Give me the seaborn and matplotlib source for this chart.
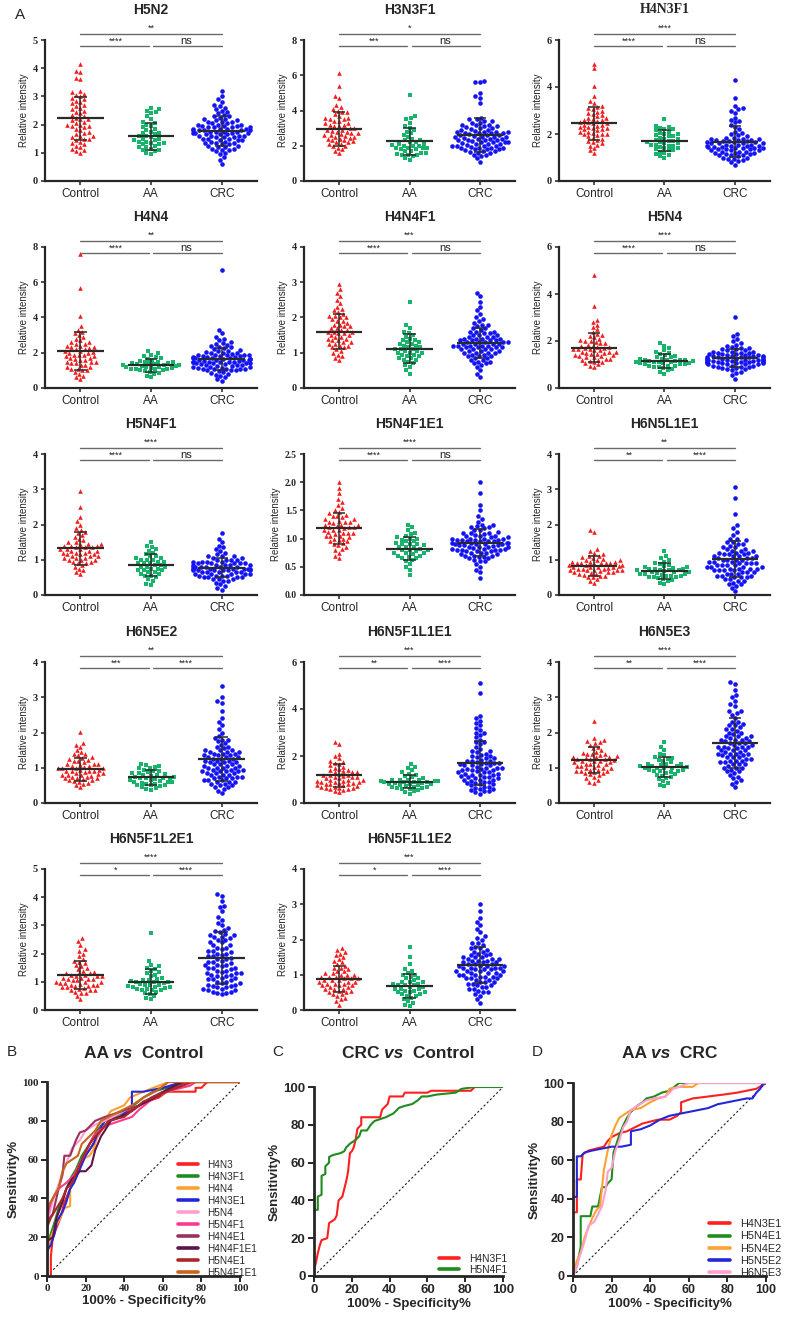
import numpy as np
import pandas as pd
import matplotlib.pyplot as plt
import seaborn as sns
import warnings

warnings.filterwarnings('ignore')

sns.set_style('ticks')
plt.rcParams['font.family'] = ['Liberation Sans', 'DejaVu Sans']
plt.rcParams['axes.linewidth'] = 1.6

## ============================================================= ##
## groups

groups = ['Control', 'AA', 'CRC']
group_colors = ['#f01e1e', '#18b46c', '#1414f2']
group_markers = ['^', 's', 'o']

## relative intensities

h5n2_control = [1.0, 1.05, 1.1, 1.15, 1.2, 1.25, 1.3, 1.35, 1.4, 1.45, 1.5, 1.5, 1.55, 1.6, 1.6, 1.65, 1.7, 1.75, 1.8, 1.85, 1.9, 1.95, 1.95, 2.0, 2.0, 2.05, 2.1, 2.15, 2.2, 2.2, 2.25, 2.3, 2.35, 2.4, 2.45, 2.5, 2.55, 2.6, 2.65, 2.7, 2.75, 2.8, 2.85, 2.9, 2.95, 3.0, 3.05, 3.1, 3.15, 3.2, 3.6, 3.65, 3.85, 3.9, 4.15]
h5n2_aa = [0.95, 1.0, 1.05, 1.1, 1.1, 1.15, 1.2, 1.2, 1.25, 1.3, 1.3, 1.35, 1.35, 1.4, 1.4, 1.45, 1.45, 1.5, 1.5, 1.55, 1.6, 1.6, 1.65, 1.7, 1.7, 1.75, 1.8, 1.85, 1.9, 1.95, 2.0, 2.05, 2.1, 2.2, 2.3, 2.4, 2.45, 2.5, 2.55, 2.6]
h5n2_crc = [0.6, 0.75, 0.85, 0.95, 1.0, 1.05, 1.1, 1.1, 1.15, 1.2, 1.2, 1.25, 1.3, 1.3, 1.35, 1.35, 1.4, 1.4, 1.45, 1.45, 1.5, 1.5, 1.5, 1.55, 1.55, 1.6, 1.6, 1.6, 1.65, 1.65, 1.7, 1.7, 1.7, 1.75, 1.75, 1.75, 1.8, 1.8, 1.8, 1.8, 1.85, 1.85, 1.85, 1.9, 1.9, 1.9, 1.95, 1.95, 2.0, 2.0, 2.0, 2.05, 2.05, 2.1, 2.1, 2.15, 2.15, 2.2, 2.2, 2.25, 2.3, 2.3, 2.35, 2.4, 2.45, 2.5, 2.55, 2.6, 2.65, 2.7, 2.8, 2.9, 3.0, 3.2, 1.25, 1.45, 1.65, 1.85, 1.55, 1.75, 1.95, 1.15, 1.35, 2.1, 1.7, 1.8, 1.6, 1.9]

h3n3f1_control = [1.6, 1.7, 1.8, 1.9, 2.0, 2.0, 2.1, 2.1, 2.2, 2.2, 2.25, 2.3, 2.3, 2.4, 2.4, 2.5, 2.5, 2.55, 2.6, 2.6, 2.7, 2.7, 2.8, 2.8, 2.9, 2.9, 3.0, 3.0, 3.1, 3.1, 3.2, 3.2, 3.3, 3.3, 3.4, 3.4, 3.5, 3.5, 3.6, 3.6, 3.7, 3.8, 3.9, 3.9, 4.0, 4.1, 4.2, 4.3, 4.7, 4.8, 5.4, 6.1, 2.45, 2.65, 2.85]
h3n3f1_aa = [1.2, 1.3, 1.4, 1.45, 1.5, 1.5, 1.55, 1.6, 1.6, 1.7, 1.7, 1.8, 1.8, 1.85, 1.9, 1.9, 1.9, 2.0, 2.0, 2.0, 2.05, 2.1, 2.1, 2.2, 2.2, 2.3, 2.3, 2.4, 2.5, 2.6, 2.7, 2.8, 2.9, 3.0, 3.1, 3.3, 3.5, 3.6, 3.7, 4.9]
h3n3f1_crc = [1.1, 1.3, 1.4, 1.5, 1.5, 1.6, 1.6, 1.65, 1.7, 1.7, 1.75, 1.8, 1.8, 1.8, 1.85, 1.9, 1.9, 1.9, 1.95, 2.0, 2.0, 2.0, 2.0, 2.05, 2.1, 2.1, 2.1, 2.15, 2.2, 2.2, 2.2, 2.2, 2.25, 2.3, 2.3, 2.3, 2.35, 2.4, 2.4, 2.4, 2.45, 2.5, 2.5, 2.5, 2.5, 2.55, 2.6, 2.6, 2.6, 2.65, 2.7, 2.7, 2.7, 2.75, 2.8, 2.8, 2.8, 2.8, 2.85, 2.9, 2.9, 2.95, 3.0, 3.0, 3.05, 3.1, 3.1, 3.15, 3.2, 3.2, 3.3, 3.3, 3.4, 3.4, 3.5, 3.5, 3.6, 4.4, 4.7, 4.8, 5.0, 5.6, 5.6, 5.7]

h4n3f1_control = [1.2, 1.3, 1.4, 1.5, 1.55, 1.6, 1.65, 1.7, 1.75, 1.8, 1.85, 1.9, 1.95, 2.0, 2.0, 2.0, 2.05, 2.1, 2.1, 2.15, 2.2, 2.2, 2.25, 2.25, 2.3, 2.3, 2.35, 2.4, 2.4, 2.45, 2.45, 2.5, 2.5, 2.55, 2.6, 2.6, 2.65, 2.7, 2.7, 2.75, 2.8, 2.85, 2.9, 2.95, 3.0, 3.05, 3.1, 3.15, 3.2, 3.3, 3.4, 3.6, 4.05, 4.8, 5.0]
h4n3f1_aa = [1.0, 1.05, 1.1, 1.15, 1.2, 1.25, 1.3, 1.3, 1.35, 1.4, 1.4, 1.45, 1.5, 1.5, 1.55, 1.55, 1.6, 1.6, 1.65, 1.65, 1.7, 1.7, 1.75, 1.8, 1.8, 1.85, 1.9, 1.9, 1.95, 2.0, 2.0, 2.05, 2.1, 2.15, 2.2, 2.2, 2.25, 2.3, 2.35, 2.65]
h4n3f1_crc = [0.7, 0.8, 0.85, 0.9, 0.95, 0.95, 1.0, 1.0, 1.05, 1.1, 1.1, 1.1, 1.15, 1.15, 1.2, 1.2, 1.2, 1.25, 1.25, 1.25, 1.3, 1.3, 1.3, 1.35, 1.35, 1.35, 1.4, 1.4, 1.4, 1.4, 1.45, 1.45, 1.45, 1.5, 1.5, 1.5, 1.5, 1.55, 1.55, 1.55, 1.6, 1.6, 1.6, 1.6, 1.65, 1.65, 1.65, 1.7, 1.7, 1.7, 1.75, 1.75, 1.75, 1.8, 1.8, 1.8, 1.85, 1.85, 1.9, 1.95, 2.0, 2.05, 2.1, 2.2, 2.3, 2.4, 2.5, 2.55, 2.6, 2.7, 2.9, 3.0, 3.05, 3.1, 3.2, 3.55, 4.3]

h4n4_control = [0.5, 0.6, 0.7, 0.8, 0.9, 1.0, 1.0, 1.1, 1.1, 1.2, 1.2, 1.3, 1.3, 1.4, 1.4, 1.45, 1.5, 1.5, 1.6, 1.6, 1.65, 1.7, 1.7, 1.8, 1.8, 1.85, 1.9, 1.9, 2.0, 2.0, 2.05, 2.1, 2.1, 2.2, 2.2, 2.25, 2.3, 2.3, 2.4, 2.4, 2.5, 2.5, 2.6, 2.6, 2.7, 2.8, 2.9, 3.0, 3.1, 3.2, 3.3, 3.5, 4.1, 5.7, 7.6]
h4n4_aa = [0.6, 0.7, 0.8, 0.85, 0.9, 0.95, 1.0, 1.0, 1.05, 1.1, 1.1, 1.1, 1.15, 1.15, 1.2, 1.2, 1.2, 1.25, 1.25, 1.3, 1.3, 1.3, 1.3, 1.35, 1.35, 1.4, 1.4, 1.4, 1.45, 1.5, 1.5, 1.55, 1.6, 1.65, 1.7, 1.75, 1.8, 1.9, 2.0, 2.1]
h4n4_crc = [0.4, 0.5, 0.6, 0.7, 0.75, 0.8, 0.85, 0.9, 0.95, 1.0, 1.0, 1.0, 1.05, 1.05, 1.1, 1.1, 1.1, 1.15, 1.15, 1.2, 1.2, 1.2, 1.25, 1.25, 1.3, 1.3, 1.3, 1.35, 1.35, 1.4, 1.4, 1.4, 1.4, 1.45, 1.45, 1.5, 1.5, 1.5, 1.5, 1.55, 1.55, 1.6, 1.6, 1.6, 1.6, 1.65, 1.65, 1.65, 1.7, 1.7, 1.7, 1.7, 1.75, 1.75, 1.75, 1.8, 1.8, 1.8, 1.85, 1.85, 1.9, 1.9, 1.9, 1.95, 2.0, 2.0, 2.0, 2.05, 2.1, 2.1, 2.15, 2.2, 2.25, 2.3, 2.35, 2.4, 2.45, 2.5, 2.55, 2.6, 2.7, 2.8, 2.9, 3.1, 3.3, 6.7]

h4n4f1_control = [0.8, 0.85, 0.9, 0.95, 1.0, 1.05, 1.1, 1.15, 1.15, 1.2, 1.2, 1.25, 1.25, 1.3, 1.3, 1.35, 1.35, 1.4, 1.4, 1.45, 1.45, 1.5, 1.5, 1.55, 1.55, 1.6, 1.6, 1.6, 1.65, 1.65, 1.7, 1.7, 1.75, 1.75, 1.8, 1.8, 1.85, 1.9, 1.9, 1.95, 2.0, 2.0, 2.05, 2.05, 2.1, 2.15, 2.2, 2.25, 2.3, 2.4, 2.5, 2.6, 2.7, 2.8, 2.95]
h4n4f1_aa = [0.4, 0.5, 0.6, 0.65, 0.7, 0.75, 0.8, 0.8, 0.85, 0.85, 0.9, 0.9, 0.95, 0.95, 1.0, 1.0, 1.0, 1.05, 1.05, 1.1, 1.1, 1.1, 1.15, 1.15, 1.2, 1.2, 1.25, 1.25, 1.3, 1.3, 1.35, 1.35, 1.4, 1.45, 1.5, 1.55, 1.6, 1.7, 1.8, 2.45]
h4n4f1_crc = [0.3, 0.4, 0.5, 0.6, 0.65, 0.7, 0.7, 0.75, 0.75, 0.8, 0.8, 0.85, 0.85, 0.9, 0.9, 0.9, 0.95, 0.95, 1.0, 1.0, 1.0, 1.0, 1.05, 1.05, 1.05, 1.1, 1.1, 1.1, 1.1, 1.15, 1.15, 1.15, 1.15, 1.2, 1.2, 1.2, 1.2, 1.2, 1.25, 1.25, 1.25, 1.25, 1.3, 1.3, 1.3, 1.3, 1.3, 1.35, 1.35, 1.35, 1.35, 1.4, 1.4, 1.4, 1.4, 1.45, 1.45, 1.45, 1.5, 1.5, 1.5, 1.55, 1.55, 1.6, 1.6, 1.6, 1.65, 1.7, 1.7, 1.75, 1.8, 1.8, 1.85, 1.9, 1.95, 2.0, 2.1, 2.2, 2.3, 2.45, 2.6, 2.7]

h5n4_control = [0.9, 0.95, 1.0, 1.05, 1.1, 1.1, 1.15, 1.2, 1.2, 1.25, 1.25, 1.3, 1.3, 1.35, 1.35, 1.4, 1.4, 1.45, 1.45, 1.5, 1.5, 1.55, 1.55, 1.55, 1.6, 1.6, 1.65, 1.65, 1.65, 1.7, 1.7, 1.75, 1.75, 1.8, 1.8, 1.85, 1.9, 1.9, 1.95, 2.0, 2.0, 2.05, 2.1, 2.15, 2.2, 2.25, 2.3, 2.4, 2.5, 2.6, 2.7, 2.8, 2.9, 3.5, 4.8]
h5n4_aa = [0.6, 0.7, 0.75, 0.8, 0.85, 0.9, 0.9, 0.95, 0.95, 0.95, 1.0, 1.0, 1.0, 1.05, 1.05, 1.05, 1.1, 1.1, 1.1, 1.1, 1.15, 1.15, 1.15, 1.2, 1.2, 1.2, 1.2, 1.25, 1.25, 1.3, 1.3, 1.35, 1.4, 1.45, 1.5, 1.55, 1.6, 1.7, 1.8, 1.9]
h5n4_crc = [0.4, 0.55, 0.65, 0.7, 0.75, 0.8, 0.8, 0.85, 0.85, 0.9, 0.9, 0.9, 0.95, 0.95, 0.95, 1.0, 1.0, 1.0, 1.0, 1.05, 1.05, 1.05, 1.05, 1.1, 1.1, 1.1, 1.1, 1.1, 1.15, 1.15, 1.15, 1.15, 1.15, 1.2, 1.2, 1.2, 1.2, 1.2, 1.25, 1.25, 1.25, 1.25, 1.25, 1.3, 1.3, 1.3, 1.3, 1.3, 1.35, 1.35, 1.35, 1.35, 1.4, 1.4, 1.4, 1.45, 1.45, 1.45, 1.5, 1.5, 1.5, 1.55, 1.55, 1.55, 1.6, 1.6, 1.65, 1.65, 1.7, 1.7, 1.75, 1.8, 1.85, 1.9, 2.0, 2.1, 2.2, 2.3, 3.0]

h5n4f1_control = [0.6, 0.65, 0.7, 0.75, 0.8, 0.85, 0.9, 0.9, 0.95, 0.95, 1.0, 1.0, 1.0, 1.05, 1.05, 1.05, 1.1, 1.1, 1.1, 1.15, 1.15, 1.15, 1.2, 1.2, 1.2, 1.25, 1.25, 1.25, 1.3, 1.3, 1.3, 1.35, 1.35, 1.35, 1.4, 1.4, 1.4, 1.45, 1.45, 1.45, 1.5, 1.5, 1.55, 1.6, 1.65, 1.7, 1.75, 1.8, 1.85, 1.9, 2.0, 2.1, 2.2, 2.5, 2.95]
h5n4f1_aa = [0.28, 0.3, 0.4, 0.45, 0.5, 0.55, 0.55, 0.6, 0.6, 0.65, 0.65, 0.7, 0.7, 0.7, 0.75, 0.75, 0.8, 0.8, 0.8, 0.85, 0.85, 0.9, 0.9, 0.9, 0.95, 0.95, 1.0, 1.0, 1.0, 1.05, 1.05, 1.1, 1.1, 1.15, 1.2, 1.25, 1.3, 1.35, 1.4, 1.5]
h5n4f1_crc = [0.15, 0.2, 0.25, 0.3, 0.35, 0.4, 0.4, 0.45, 0.45, 0.45, 0.5, 0.5, 0.5, 0.5, 0.55, 0.55, 0.55, 0.55, 0.6, 0.6, 0.6, 0.6, 0.6, 0.65, 0.65, 0.65, 0.65, 0.65, 0.7, 0.7, 0.7, 0.7, 0.7, 0.7, 0.75, 0.75, 0.75, 0.75, 0.75, 0.75, 0.8, 0.8, 0.8, 0.8, 0.8, 0.8, 0.85, 0.85, 0.85, 0.85, 0.85, 0.9, 0.9, 0.9, 0.9, 0.9, 0.95, 0.95, 0.95, 0.95, 1.0, 1.0, 1.0, 1.0, 1.05, 1.05, 1.1, 1.1, 1.1, 1.15, 1.2, 1.25, 1.3, 1.35, 1.4, 1.5, 1.6, 1.75]

h5n4f1e1_control = [0.65, 0.7, 0.75, 0.8, 0.82, 0.85, 0.88, 0.9, 0.92, 0.95, 0.95, 0.97, 1.0, 1.0, 1.02, 1.05, 1.05, 1.05, 1.08, 1.1, 1.1, 1.1, 1.12, 1.15, 1.15, 1.15, 1.18, 1.2, 1.2, 1.2, 1.22, 1.25, 1.25, 1.25, 1.28, 1.3, 1.3, 1.3, 1.32, 1.35, 1.35, 1.38, 1.4, 1.4, 1.42, 1.45, 1.48, 1.5, 1.55, 1.6, 1.65, 1.7, 1.8, 1.9, 2.0]
h5n4f1e1_aa = [0.35, 0.45, 0.5, 0.55, 0.6, 0.62, 0.65, 0.65, 0.68, 0.7, 0.7, 0.72, 0.75, 0.75, 0.75, 0.78, 0.8, 0.8, 0.8, 0.82, 0.85, 0.85, 0.85, 0.88, 0.9, 0.9, 0.9, 0.92, 0.95, 0.95, 0.98, 1.0, 1.0, 1.02, 1.05, 1.08, 1.1, 1.15, 1.2, 1.25]
h5n4f1e1_crc = [0.3, 0.4, 0.45, 0.5, 0.55, 0.6, 0.6, 0.62, 0.65, 0.65, 0.68, 0.68, 0.7, 0.7, 0.7, 0.72, 0.72, 0.75, 0.75, 0.75, 0.78, 0.78, 0.78, 0.8, 0.8, 0.8, 0.8, 0.82, 0.82, 0.82, 0.83, 0.85, 0.85, 0.85, 0.85, 0.87, 0.88, 0.88, 0.88, 0.9, 0.9, 0.9, 0.9, 0.92, 0.92, 0.92, 0.92, 0.95, 0.95, 0.95, 0.95, 0.97, 0.98, 0.98, 0.98, 1.0, 1.0, 1.0, 1.0, 1.02, 1.02, 1.05, 1.05, 1.05, 1.07, 1.08, 1.1, 1.1, 1.1, 1.12, 1.15, 1.15, 1.18, 1.2, 1.2, 1.22, 1.25, 1.25, 1.3, 1.35, 1.4, 1.5, 1.6, 1.8, 2.0]

h6n5l1e1_control = [0.35, 0.4, 0.45, 0.5, 0.52, 0.55, 0.55, 0.58, 0.6, 0.6, 0.62, 0.65, 0.65, 0.65, 0.68, 0.7, 0.7, 0.7, 0.7, 0.72, 0.75, 0.75, 0.75, 0.78, 0.8, 0.8, 0.8, 0.8, 0.82, 0.85, 0.85, 0.85, 0.88, 0.9, 0.9, 0.9, 0.9, 0.92, 0.95, 0.95, 0.95, 0.98, 1.0, 1.0, 1.02, 1.05, 1.08, 1.1, 1.12, 1.15, 1.2, 1.25, 1.3, 1.8, 1.85]
h6n5l1e1_aa = [0.3, 0.35, 0.4, 0.42, 0.45, 0.48, 0.5, 0.5, 0.52, 0.55, 0.55, 0.55, 0.58, 0.6, 0.6, 0.6, 0.62, 0.65, 0.65, 0.65, 0.68, 0.7, 0.7, 0.7, 0.72, 0.75, 0.75, 0.75, 0.78, 0.8, 0.8, 0.82, 0.85, 0.88, 0.9, 0.95, 1.0, 1.05, 1.1, 1.25]
h6n5l1e1_crc = [0.1, 0.2, 0.25, 0.3, 0.3, 0.35, 0.4, 0.4, 0.45, 0.45, 0.5, 0.5, 0.5, 0.55, 0.55, 0.55, 0.6, 0.6, 0.6, 0.65, 0.65, 0.65, 0.7, 0.7, 0.7, 0.7, 0.75, 0.75, 0.75, 0.75, 0.8, 0.8, 0.8, 0.8, 0.85, 0.85, 0.85, 0.85, 0.9, 0.9, 0.9, 0.9, 0.95, 0.95, 0.95, 1.0, 1.0, 1.0, 1.0, 1.05, 1.05, 1.05, 1.1, 1.1, 1.1, 1.1, 1.15, 1.15, 1.15, 1.2, 1.2, 1.2, 1.25, 1.25, 1.25, 1.3, 1.3, 1.35, 1.35, 1.4, 1.45, 1.45, 1.5, 1.5, 1.55, 1.6, 1.6, 1.7, 1.8, 1.9, 2.0, 2.3, 2.75, 3.05]

h6n5e2_control = [0.45, 0.5, 0.55, 0.58, 0.6, 0.62, 0.65, 0.65, 0.68, 0.7, 0.7, 0.72, 0.75, 0.75, 0.78, 0.8, 0.8, 0.8, 0.82, 0.85, 0.85, 0.88, 0.9, 0.9, 0.9, 0.92, 0.95, 0.95, 0.98, 1.0, 1.0, 1.0, 1.02, 1.05, 1.05, 1.08, 1.1, 1.1, 1.1, 1.15, 1.2, 1.2, 1.22, 1.25, 1.28, 1.3, 1.35, 1.38, 1.4, 1.45, 1.5, 1.6, 1.65, 1.7, 2.02]
h6n5e2_aa = [0.38, 0.4, 0.42, 0.45, 0.48, 0.5, 0.5, 0.52, 0.55, 0.55, 0.58, 0.6, 0.6, 0.6, 0.62, 0.65, 0.65, 0.68, 0.7, 0.7, 0.7, 0.72, 0.75, 0.75, 0.78, 0.8, 0.8, 0.82, 0.85, 0.85, 0.88, 0.9, 0.92, 0.95, 0.98, 1.0, 1.02, 1.05, 1.08, 1.1]
h6n5e2_crc = [0.28, 0.35, 0.4, 0.45, 0.45, 0.5, 0.5, 0.55, 0.55, 0.6, 0.6, 0.6, 0.65, 0.65, 0.65, 0.7, 0.7, 0.7, 0.75, 0.75, 0.75, 0.8, 0.8, 0.8, 0.85, 0.85, 0.85, 0.9, 0.9, 0.9, 0.9, 0.95, 0.95, 0.95, 1.0, 1.0, 1.0, 1.0, 1.05, 1.05, 1.05, 1.1, 1.1, 1.1, 1.15, 1.15, 1.15, 1.2, 1.2, 1.2, 1.25, 1.25, 1.25, 1.3, 1.3, 1.3, 1.35, 1.35, 1.35, 1.4, 1.4, 1.4, 1.45, 1.45, 1.45, 1.5, 1.5, 1.5, 1.55, 1.6, 1.6, 1.65, 1.7, 1.75, 1.8, 1.8, 1.85, 1.9, 2.0, 2.1, 2.2, 2.3, 2.4, 2.6, 2.85, 2.9, 3.0, 3.32]

h6n5f1l1e1_control = [0.45, 0.5, 0.55, 0.6, 0.6, 0.62, 0.65, 0.65, 0.7, 0.7, 0.72, 0.75, 0.75, 0.8, 0.8, 0.82, 0.85, 0.85, 0.9, 0.9, 0.9, 0.95, 0.95, 1.0, 1.0, 1.0, 1.05, 1.05, 1.1, 1.1, 1.1, 1.15, 1.2, 1.2, 1.2, 1.25, 1.3, 1.3, 1.3, 1.35, 1.4, 1.4, 1.45, 1.5, 1.55, 1.6, 1.65, 1.7, 1.75, 1.8, 1.9, 2.0, 2.1, 2.5, 2.6]
h6n5f1l1e1_aa = [0.4, 0.45, 0.5, 0.55, 0.6, 0.6, 0.62, 0.65, 0.68, 0.7, 0.7, 0.72, 0.75, 0.78, 0.8, 0.8, 0.82, 0.85, 0.85, 0.88, 0.9, 0.9, 0.9, 0.92, 0.95, 0.95, 0.98, 1.0, 1.0, 1.0, 1.05, 1.1, 1.15, 1.2, 1.25, 1.3, 1.4, 1.5, 1.55, 1.65]
h6n5f1l1e1_crc = [0.4, 0.45, 0.5, 0.5, 0.55, 0.6, 0.6, 0.65, 0.7, 0.7, 0.75, 0.8, 0.8, 0.85, 0.85, 0.9, 0.9, 0.95, 1.0, 1.0, 1.0, 1.05, 1.05, 1.1, 1.1, 1.1, 1.15, 1.2, 1.2, 1.2, 1.25, 1.25, 1.3, 1.3, 1.3, 1.35, 1.4, 1.4, 1.4, 1.45, 1.45, 1.5, 1.5, 1.5, 1.55, 1.6, 1.6, 1.6, 1.65, 1.65, 1.7, 1.7, 1.7, 1.75, 1.8, 1.8, 1.8, 1.85, 1.9, 1.9, 1.95, 2.0, 2.0, 2.05, 2.1, 2.15, 2.2, 2.2, 2.3, 2.4, 2.5, 2.6, 2.6, 2.7, 2.8, 2.9, 3.0, 3.0, 3.1, 3.2, 3.3, 3.4, 3.5, 3.6, 3.7, 4.7, 5.1]

h6n5e3_control = [0.58, 0.6, 0.65, 0.7, 0.75, 0.8, 0.82, 0.85, 0.85, 0.88, 0.9, 0.9, 0.92, 0.95, 0.95, 0.98, 1.0, 1.0, 1.02, 1.05, 1.05, 1.08, 1.1, 1.1, 1.12, 1.15, 1.15, 1.18, 1.2, 1.2, 1.22, 1.25, 1.25, 1.25, 1.28, 1.3, 1.3, 1.3, 1.32, 1.35, 1.38, 1.4, 1.4, 1.42, 1.45, 1.5, 1.55, 1.6, 1.65, 1.7, 1.72, 1.75, 1.78, 1.85, 2.32]
h6n5e3_aa = [0.48, 0.52, 0.58, 0.62, 0.68, 0.72, 0.75, 0.78, 0.8, 0.82, 0.85, 0.88, 0.9, 0.9, 0.92, 0.95, 0.95, 0.98, 1.0, 1.0, 1.0, 1.02, 1.05, 1.05, 1.05, 1.08, 1.1, 1.1, 1.12, 1.15, 1.2, 1.22, 1.25, 1.28, 1.3, 1.35, 1.4, 1.5, 1.6, 1.72]
h6n5e3_crc = [0.45, 0.55, 0.6, 0.65, 0.7, 0.75, 0.8, 0.85, 0.9, 0.9, 0.95, 1.0, 1.0, 1.0, 1.05, 1.1, 1.1, 1.1, 1.15, 1.15, 1.2, 1.2, 1.2, 1.25, 1.25, 1.3, 1.3, 1.3, 1.35, 1.35, 1.4, 1.4, 1.4, 1.4, 1.45, 1.45, 1.5, 1.5, 1.5, 1.55, 1.55, 1.6, 1.6, 1.6, 1.6, 1.65, 1.65, 1.7, 1.7, 1.7, 1.75, 1.75, 1.8, 1.8, 1.8, 1.85, 1.85, 1.9, 1.9, 1.9, 1.95, 2.0, 2.0, 2.05, 2.1, 2.1, 2.15, 2.2, 2.2, 2.25, 2.3, 2.3, 2.4, 2.5, 2.55, 2.6, 2.6, 2.75, 2.8, 2.9, 3.0, 3.05, 3.2, 3.38, 3.42]

h6n5f1l2e1_control = [0.38, 0.5, 0.6, 0.62, 0.65, 0.7, 0.7, 0.72, 0.75, 0.78, 0.8, 0.8, 0.85, 0.85, 0.88, 0.9, 0.9, 0.92, 0.95, 0.95, 1.0, 1.0, 1.0, 1.05, 1.05, 1.1, 1.1, 1.1, 1.15, 1.15, 1.2, 1.2, 1.2, 1.25, 1.25, 1.3, 1.3, 1.3, 1.35, 1.4, 1.45, 1.5, 1.55, 1.6, 1.65, 1.7, 1.75, 1.8, 1.9, 2.0, 2.1, 2.15, 2.3, 2.45, 2.55]
h6n5f1l2e1_aa = [0.38, 0.42, 0.5, 0.55, 0.6, 0.65, 0.7, 0.7, 0.72, 0.75, 0.75, 0.78, 0.8, 0.8, 0.82, 0.85, 0.88, 0.9, 0.9, 0.92, 0.95, 1.0, 1.0, 1.0, 1.02, 1.05, 1.05, 1.1, 1.15, 1.2, 1.25, 1.3, 1.35, 1.4, 1.45, 1.5, 1.55, 1.6, 1.75, 2.72]
h6n5f1l2e1_crc = [0.55, 0.6, 0.6, 0.65, 0.65, 0.7, 0.7, 0.75, 0.75, 0.8, 0.8, 0.85, 0.85, 0.9, 0.9, 0.95, 0.95, 1.0, 1.0, 1.05, 1.1, 1.1, 1.15, 1.15, 1.2, 1.2, 1.25, 1.25, 1.3, 1.3, 1.3, 1.35, 1.4, 1.4, 1.45, 1.5, 1.5, 1.5, 1.55, 1.6, 1.6, 1.6, 1.65, 1.7, 1.7, 1.75, 1.8, 1.8, 1.85, 1.9, 1.9, 1.95, 2.0, 2.0, 2.05, 2.1, 2.1, 2.15, 2.2, 2.2, 2.3, 2.3, 2.4, 2.4, 2.5, 2.5, 2.55, 2.6, 2.6, 2.65, 2.65, 2.7, 2.75, 2.8, 2.85, 2.9, 3.0, 3.1, 3.2, 3.3, 3.5, 3.65, 3.7, 3.85, 4.05, 4.12]

h6n5f1l1e2_control = [0.15, 0.25, 0.3, 0.35, 0.4, 0.45, 0.45, 0.5, 0.5, 0.55, 0.55, 0.6, 0.6, 0.6, 0.65, 0.65, 0.7, 0.7, 0.7, 0.75, 0.75, 0.75, 0.8, 0.8, 0.8, 0.85, 0.85, 0.85, 0.9, 0.9, 0.9, 0.95, 0.95, 0.95, 1.0, 1.0, 1.0, 1.05, 1.05, 1.1, 1.1, 1.15, 1.2, 1.2, 1.25, 1.3, 1.35, 1.4, 1.45, 1.5, 1.55, 1.6, 1.65, 1.7, 1.75]
h6n5f1l1e2_aa = [0.1, 0.15, 0.2, 0.25, 0.3, 0.35, 0.4, 0.4, 0.45, 0.45, 0.5, 0.5, 0.5, 0.55, 0.55, 0.6, 0.6, 0.6, 0.65, 0.65, 0.7, 0.7, 0.7, 0.75, 0.75, 0.8, 0.8, 0.8, 0.85, 0.9, 0.9, 0.95, 1.0, 1.0, 1.05, 1.1, 1.15, 1.3, 1.5, 1.8]
h6n5f1l1e2_crc = [0.2, 0.3, 0.4, 0.45, 0.5, 0.5, 0.55, 0.6, 0.6, 0.65, 0.65, 0.7, 0.7, 0.75, 0.75, 0.8, 0.8, 0.8, 0.85, 0.85, 0.9, 0.9, 0.9, 0.95, 0.95, 0.95, 1.0, 1.0, 1.0, 1.0, 1.05, 1.05, 1.05, 1.1, 1.1, 1.1, 1.1, 1.15, 1.15, 1.15, 1.2, 1.2, 1.2, 1.2, 1.25, 1.25, 1.25, 1.25, 1.3, 1.3, 1.3, 1.35, 1.35, 1.35, 1.4, 1.4, 1.4, 1.45, 1.45, 1.45, 1.5, 1.5, 1.5, 1.55, 1.55, 1.6, 1.6, 1.65, 1.65, 1.7, 1.75, 1.75, 1.8, 1.85, 1.9, 1.9, 2.0, 2.05, 2.1, 2.2, 2.3, 2.4, 2.5, 2.6, 2.8, 3.02]

## panel settings

glycans = ['H5N2', 'H3N3F1', 'H4N3F1', 'H4N4', 'H4N4F1', 'H5N4', 'H5N4F1', 'H5N4F1E1',
           'H6N5L1E1', 'H6N5E2', 'H6N5F1L1E1', 'H6N5E3', 'H6N5F1L2E1', 'H6N5F1L1E2']
y_max = [5, 8, 6, 8, 4, 6, 4, 2.5, 4, 4, 6, 4, 5, 4]
y_step = [1, 2, 2, 2, 1, 2, 1, 0.5, 1, 1, 2, 1, 1, 1]

mean_control = [2.22, 2.95, 2.45, 2.1, 1.6, 1.72, 1.32, 1.18, 0.82, 0.96, 1.18, 1.22, 1.24, 0.88]
sd_control = [0.76, 0.95, 0.72, 1.1, 0.5, 0.62, 0.47, 0.28, 0.28, 0.33, 0.5, 0.36, 0.5, 0.37]
mean_aa = [1.58, 2.25, 1.72, 1.3, 1.12, 1.15, 0.85, 0.82, 0.68, 0.73, 0.9, 1.02, 1.01, 0.68]
sd_aa = [0.48, 0.75, 0.43, 0.37, 0.4, 0.3, 0.3, 0.2, 0.22, 0.21, 0.28, 0.28, 0.43, 0.33]
mean_crc = [1.78, 2.6, 1.68, 1.65, 1.28, 1.28, 0.78, 0.93, 1.02, 1.25, 1.7, 1.7, 1.85, 1.28]
sd_crc = [0.53, 0.95, 0.67, 0.62, 0.43, 0.4, 0.28, 0.24, 0.5, 0.62, 0.95, 0.7, 0.93, 0.52]

sig_control_crc = ['**', '*', '****', '**', '***', '****', '****', '****', '**', '**', '***', '****', '****', '***']
sig_control_aa = ['****', '***', '****', '****', '****', '****', '****', '****', '**', '***', '**', '**', '*', '*']
sig_aa_crc = ['ns', 'ns', 'ns', 'ns', 'ns', 'ns', 'ns', 'ns', '****', '****', '****', '****', '****', '****']

roc_b_h4n3 = [(0, 0), (2, 0), (2, 10), (3, 20), (5, 25), (7, 30), (9, 38), (12, 45), (15, 52), (18, 60), (22, 65), (25, 70), (28, 75), (32, 80), (38, 82), (42, 85), (48, 88), (52, 90), (58, 92), (62, 95), (77, 95), (77, 97), (80, 97), (83, 100), (100, 100)]
roc_b_h4n3f1 = [(0, 0), (0, 15), (2, 22), (4, 28), (6, 35), (9, 42), (12, 50), (15, 55), (18, 62), (22, 68), (26, 75), (30, 80), (36, 82), (40, 85), (45, 88), (50, 92), (55, 95), (62, 97), (72, 100), (100, 100)]
roc_b_h4n4 = [(0, 0), (0, 10), (2, 20), (4, 25), (7, 30), (9, 35), (12, 36), (12, 45), (15, 52), (18, 60), (22, 62), (24, 65), (27, 75), (30, 80), (33, 85), (40, 88), (43, 92), (50, 95), (55, 97), (63, 100), (100, 100)]
roc_b_h4n3e1 = [(0, 0), (0, 13), (2, 16), (4, 22), (5, 28), (8, 33), (10, 38), (12, 45), (14, 48), (17, 55), (20, 62), (24, 68), (27, 75), (30, 80), (38, 82), (44, 88), (44, 95), (50, 95), (60, 97), (70, 100), (100, 100)]
roc_b_h5n4 = [(0, 0), (0, 25), (2, 35), (4, 42), (7, 50), (10, 58), (13, 66), (17, 70), (20, 75), (25, 78), (30, 80), (36, 83), (42, 86), (48, 88), (55, 92), (62, 95), (70, 97), (77, 100), (100, 100)]
roc_b_h5n4f1 = [(0, 0), (0, 30), (2, 38), (4, 42), (6, 45), (10, 48), (14, 52), (17, 58), (21, 66), (24, 72), (27, 75), (32, 78), (38, 80), (44, 82), (48, 86), (53, 90), (58, 93), (65, 96), (74, 98), (77, 100), (100, 100)]
roc_b_h4n4e1 = [(0, 0), (0, 28), (3, 32), (6, 45), (8, 52), (9, 62), (12, 62), (15, 70), (17, 74), (20, 75), (22, 77), (25, 80), (30, 82), (36, 84), (42, 86), (48, 88), (54, 92), (60, 95), (68, 98), (72, 100), (100, 100)]
roc_b_h4n4f1e1 = [(0, 0), (0, 18), (3, 20), (5, 30), (8, 38), (10, 45), (13, 50), (17, 54), (20, 54), (23, 57), (25, 65), (28, 72), (30, 75), (33, 80), (38, 82), (44, 85), (48, 88), (52, 90), (58, 93), (62, 96), (70, 100), (100, 100)]
roc_b_h5n4e1 = [(0, 0), (0, 25), (2, 30), (5, 35), (8, 40), (10, 45), (13, 48), (16, 55), (19, 62), (22, 68), (25, 72), (28, 75), (32, 80), (40, 82), (45, 86), (50, 90), (55, 92), (62, 95), (70, 98), (75, 100), (100, 100)]
roc_b_h5n4f1e1 = [(0, 0), (0, 35), (3, 40), (6, 45), (8, 54), (10, 58), (13, 60), (16, 62), (18, 68), (22, 72), (25, 75), (28, 80), (32, 82), (38, 85), (44, 88), (50, 92), (56, 95), (63, 100), (100, 100)]

roc_c_h4n3f1 = [(0, 0), (0, 3), (1, 7), (2, 12), (3, 16), (4, 19), (7, 20), (8, 28), (11, 30), (12, 32), (13, 40), (15, 42), (16, 46), (17, 50), (18, 55), (19, 65), (20, 66), (21, 68), (22, 72), (23, 78), (25, 80), (25, 84), (35, 84), (36, 88), (38, 90), (39, 91), (40, 95), (47, 95), (48, 97), (60, 97), (62, 98), (83, 98), (85, 100), (100, 100)]
roc_c_h5n4f1 = [(0, 0), (0, 35), (2, 35), (2, 42), (4, 43), (4, 53), (6, 54), (6, 58), (8, 60), (8, 63), (10, 64), (14, 65), (16, 66), (17, 68), (19, 70), (22, 72), (24, 74), (25, 77), (28, 77), (30, 80), (32, 82), (35, 83), (38, 84), (40, 85), (42, 86), (45, 89), (48, 90), (52, 91), (55, 93), (57, 95), (60, 95), (65, 96), (75, 97), (78, 99), (85, 100), (100, 100)]

roc_d_h4n3e1 = [(0, 0), (0, 33), (2, 33), (2, 50), (4, 50), (5, 63), (8, 65), (12, 66), (16, 67), (18, 70), (20, 72), (24, 74), (28, 75), (32, 77), (36, 79), (40, 80), (44, 81), (50, 81), (54, 83), (56, 85), (56, 90), (62, 92), (70, 93), (78, 94), (85, 95), (90, 96), (95, 97), (100, 100)]
roc_d_h5n4e1 = [(0, 0), (2, 5), (4, 15), (4, 31), (9, 31), (10, 36), (13, 36), (15, 46), (17, 46), (18, 48), (20, 50), (21, 64), (22, 67), (24, 73), (26, 78), (28, 82), (30, 85), (33, 88), (36, 90), (38, 92), (42, 93), (46, 95), (50, 96), (55, 100), (100, 100)]
roc_d_h5n4e2 = [(0, 0), (2, 8), (4, 12), (6, 20), (8, 25), (10, 30), (12, 34), (14, 36), (16, 55), (17, 60), (18, 65), (20, 73), (22, 78), (24, 82), (27, 84), (30, 86), (35, 87), (40, 90), (44, 92), (48, 93), (50, 97), (55, 98), (62, 98), (65, 100), (100, 100)]
roc_d_h5n5e2 = [(0, 0), (0, 41), (2, 41), (2, 62), (4, 62), (6, 64), (10, 65), (15, 66), (20, 67), (25, 67), (30, 68), (30, 75), (35, 76), (40, 78), (45, 81), (50, 83), (55, 84), (60, 85), (65, 86), (70, 87), (75, 89), (80, 90), (85, 91), (90, 92), (93, 92), (95, 95), (97, 97), (98, 99), (100, 100)]
roc_d_h6n5e3 = [(0, 0), (2, 5), (4, 12), (6, 18), (8, 26), (11, 28), (13, 32), (15, 36), (17, 45), (18, 54), (20, 56), (22, 65), (24, 70), (26, 77), (28, 80), (30, 86), (33, 88), (38, 91), (42, 92), (48, 93), (52, 97), (55, 98), (60, 100), (100, 100)]

## ============================================================= ##

panel_values = [
    (h5n2_control, h5n2_aa, h5n2_crc),
    (h3n3f1_control, h3n3f1_aa, h3n3f1_crc),
    (h4n3f1_control, h4n3f1_aa, h4n3f1_crc),
    (h4n4_control, h4n4_aa, h4n4_crc),
    (h4n4f1_control, h4n4f1_aa, h4n4f1_crc),
    (h5n4_control, h5n4_aa, h5n4_crc),
    (h5n4f1_control, h5n4f1_aa, h5n4f1_crc),
    (h5n4f1e1_control, h5n4f1e1_aa, h5n4f1e1_crc),
    (h6n5l1e1_control, h6n5l1e1_aa, h6n5l1e1_crc),
    (h6n5e2_control, h6n5e2_aa, h6n5e2_crc),
    (h6n5f1l1e1_control, h6n5f1l1e1_aa, h6n5f1l1e1_crc),
    (h6n5e3_control, h6n5e3_aa, h6n5e3_crc),
    (h6n5f1l2e1_control, h6n5f1l2e1_aa, h6n5f1l2e1_crc),
    (h6n5f1l1e2_control, h6n5f1l1e2_aa, h6n5f1l1e2_crc),
]

W, H = 800, 1319
fig = plt.figure(figsize=(W / 100, H / 100), dpi=100)


def px_axes(x0, y0, x1, y1):
    # axes from pixel box (top-left origin)
    return fig.add_axes([x0 / W, 1 - y1 / H, (x1 - x0) / W, (y1 - y0) / H])


col_x = [(45, 257), (304, 515), (559, 770)]
row_top = [40, 247, 454, 662, 869]
ax_h = 141

serif_bold = dict(family=['Liberation Serif', 'DejaVu Serif'], weight='bold')

for k, name in enumerate(glycans):
    r, c = divmod(k, 3)
    x0, x1 = col_x[c]
    ax = px_axes(x0, row_top[r], x1, row_top[r] + ax_h)

    for i, g in enumerate(groups):
        dfg = pd.DataFrame({'group': g, 'value': panel_values[k][i]})
        sns.swarmplot(data=dfg, x='group', y='value', order=groups, color=group_colors[i],
                      marker=group_markers[i], size=3.3, linewidth=0, ax=ax)

    means = [mean_control[k], mean_aa[k], mean_crc[k]]
    sds = [sd_control[k], sd_aa[k], sd_crc[k]]
    for i in range(3):
        m, s = means[i], sds[i]
        ax.hlines(m, i - 0.33, i + 0.33, color='#2a2a2a', lw=1.6, zorder=5)
        ax.vlines(i, m - s, m + s, color='#2a2a2a', lw=1.1, zorder=5)
        ax.hlines([m - s, m + s], i - 0.09, i + 0.09, color='#2a2a2a', lw=1.1, zorder=5)

    ax.set_xlim(-0.5, 2.5)
    ax.set_ylim(0, y_max[k])
    ticks = np.arange(0, y_max[k] + y_step[k] / 2, y_step[k])
    ax.set_yticks(ticks)
    if y_step[k] < 1:
        ax.set_yticklabels(['%.1f' % t for t in ticks], fontdict=serif_bold, fontsize=7)
    else:
        ax.set_yticklabels(['%d' % t for t in ticks], fontdict=serif_bold, fontsize=7.5)
    ax.set_xticks(range(3))
    ax.set_xticklabels(groups, fontsize=8.5)
    ax.set_xlabel('')
    ax.set_ylabel('Relative intensity', fontsize=7, labelpad=3)
    ax.tick_params(axis='both', length=3, width=1.2, pad=2, color='#333')
    sns.despine(ax=ax)

    # significance brackets
    tr = ax.get_xaxis_transform()
    ax.plot([0, 2], [1.045, 1.045], color='#6a6a6a', lw=1.0, transform=tr, clip_on=False)
    ax.plot([0, 0.97], [0.955, 0.955], color='#6a6a6a', lw=1.0, transform=tr, clip_on=False)
    ax.plot([1.03, 2], [0.955, 0.955], color='#6a6a6a', lw=1.0, transform=tr, clip_on=False)
    for xs, ys, lab in [(1.0, 1.05, sig_control_crc[k]), (0.5, 0.96, sig_control_aa[k]),
                        (1.5, 0.96, sig_aa_crc[k])]:
        fs = 8 if lab == 'ns' else 6.5
        ax.text(xs, ys, lab, transform=tr, ha='center', va='bottom', fontsize=fs, color='#222')

    title_font = serif_bold if name == 'H4N3F1' else dict(weight='bold')
    ax.text(0.5, 1.215, name, transform=ax.transAxes, ha='center', va='center',
            fontsize=10, **title_font)

fig.text(20 / W, 1 - 15 / H, 'A', fontsize=11, ha='center', va='center')

## ============================================================= ##
## ROC panels

roc_panels = [
    dict(box=(47, 1082, 240, 1276), letter='B', letter_x=12, first='AA', second='Control',
         curves=[('H4N3', roc_b_h4n3, '#ff1f1f'), ('H4N3F1', roc_b_h4n3f1, '#1f8c1f'),
                 ('H4N4', roc_b_h4n4, '#ffa030'), ('H4N3E1', roc_b_h4n3e1, '#2626d9'),
                 ('H5N4', roc_b_h5n4, '#ff9fcf'), ('H5N4F1', roc_b_h5n4f1, '#ff3a8c'),
                 ('H4N4E1', roc_b_h4n4e1, '#9c3060'), ('H4N4F1E1', roc_b_h4n4f1e1, '#5e1446'),
                 ('H5N4E1', roc_b_h5n4e1, '#a82828'), ('H5N4F1E1', roc_b_h5n4f1e1, '#c8641e')],
         serif=True, tick_fs=8, lab_fs=9.5, leg_fs=7.2, leg_anchor=(1.09, -0.01), leg_ls=0.2),
    dict(box=(314, 1087, 503, 1276), letter='C', letter_x=278, first='CRC', second='Control',
         curves=[('H4N3F1', roc_c_h4n3f1, '#ff1f1f'), ('H5N4F1', roc_c_h5n4f1, '#1f8c1f')],
         serif=False, tick_fs=9.5, lab_fs=9.5, leg_fs=7.4, leg_anchor=(1.02, 0.005), leg_ls=0.15),
    dict(box=(573, 1083, 766, 1276), letter='D', letter_x=537, first='AA', second='CRC',
         curves=[('H4N3E1', roc_d_h4n3e1, '#ff1f1f'), ('H5N4E1', roc_d_h5n4e1, '#1f8c1f'),
                 ('H5N4E2', roc_d_h5n4e2, '#ffa030'), ('H5N5E2', roc_d_h5n5e2, '#2626d9'),
                 ('H6N5E3', roc_d_h6n5e3, '#ff9fcf')],
         serif=False, tick_fs=9, lab_fs=9.5, leg_fs=7.8, leg_anchor=(1.08, -0.01), leg_ls=0.2),
]

title_parts = []
for p in roc_panels:
    ax = px_axes(*p['box'])
    ax.plot([0, 100], [0, 100], color='#222', lw=0.8, ls=(0, (2, 2)))
    for lab, pts, col in p['curves']:
        sns.lineplot(x=[q[0] for q in pts], y=[q[1] for q in pts], sort=False, estimator=None,
                     color=col, lw=1.5, label=lab, ax=ax)
    ax.set_xlim(0, 100)
    ax.set_ylim(0, 100)
    ticks = np.arange(0, 101, 20)
    ax.set_xticks(ticks)
    ax.set_yticks(ticks)
    tfont = serif_bold if p['serif'] else dict(weight='bold')
    ax.set_xticklabels(['%d' % t for t in ticks], fontdict=tfont, fontsize=p['tick_fs'])
    ax.set_yticklabels(['%d' % t for t in ticks], fontdict=tfont, fontsize=p['tick_fs'])
    ax.set_xlabel('100% - Specificity%', fontsize=p['lab_fs'], weight='bold', labelpad=1)
    ax.set_ylabel('Sensitivity%', fontsize=p['lab_fs'], weight='bold', labelpad=2)
    ax.tick_params(axis='both', length=4, width=1.4, pad=2)
    for s in ['left', 'bottom']:
        ax.spines[s].set_linewidth(2.0)
    sns.despine(ax=ax)
    leg = ax.legend(loc='lower right', bbox_to_anchor=p['leg_anchor'], frameon=False,
                    fontsize=p['leg_fs'], handlelength=2.0, handletextpad=0.9,
                    labelspacing=p['leg_ls'], borderaxespad=0, borderpad=0)
    for h in leg.get_lines():
        h.set_linewidth(2.6)

    # title with italic "vs", centred afterwards
    y_title = 1 + (p['box'][1] - 1053) / (p['box'][3] - p['box'][1])
    ta = ax.text(0.5, y_title, p['first'] + ' ', transform=ax.transAxes, ha='center',
                 va='center', fontsize=12.5, weight='bold')
    tb = ax.annotate('vs ', xy=(1, 0), xycoords=ta, ha='left', va='bottom',
                     fontsize=12.5, weight='bold', style='italic')
    tc = ax.annotate(' ' + p['second'], xy=(1, 0), xycoords=tb, ha='left', va='bottom',
                     fontsize=12.5, weight='bold')
    title_parts.append((ax, ta, [ta, tb, tc]))
    fig.text(p['letter_x'] / W, 1 - 1052 / H, p['letter'], fontsize=11, ha='center', va='center')

fig.canvas.draw()
renderer = fig.canvas.get_renderer()
for ax, ta, parts in title_parts:
    bbs = [t.get_window_extent(renderer) for t in parts]
    left = min(b.x0 for b in bbs)
    right = max(b.x1 for b in bbs)
    axbb = ax.get_window_extent(renderer)
    shift = (axbb.x0 + axbb.x1) / 2 - (left + right) / 2
    x, y = ta.get_position()
    ta.set_position((x + shift / axbb.width, y))

fig.savefig('out.png', dpi=100)
